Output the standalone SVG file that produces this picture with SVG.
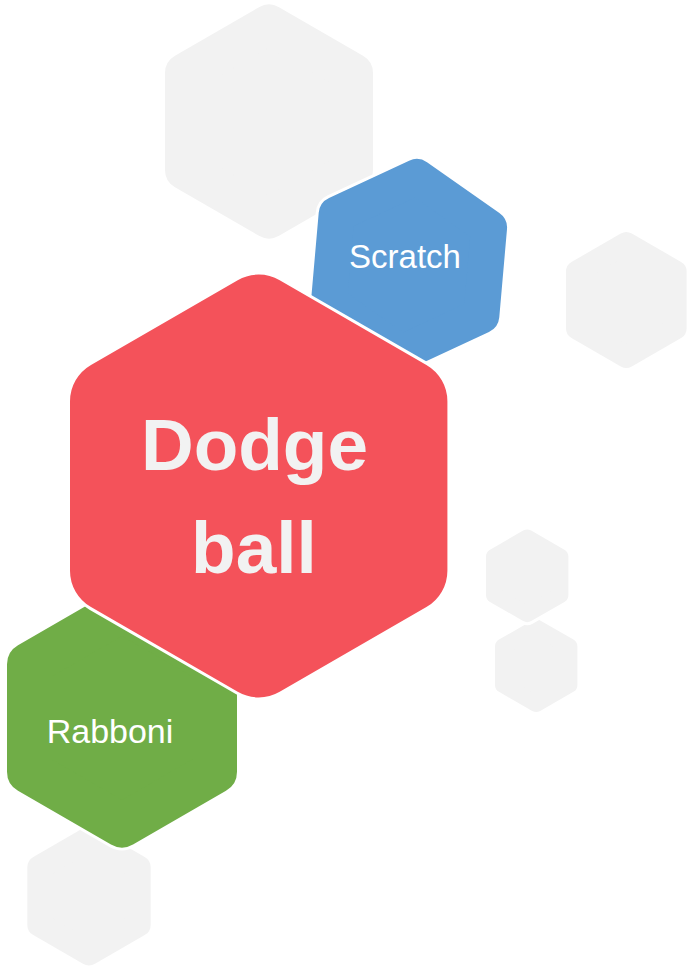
<svg xmlns="http://www.w3.org/2000/svg" width="688" height="969" viewBox="0 0 688 969">
<style>
.halo{fill:#FFFFFF;stroke:#FFFFFF;stroke-linejoin:round}
.gray{fill:#F2F2F2;stroke:#F2F2F2;stroke-linejoin:round}
.blue{fill:#5B9BD5;stroke:#5B9BD5;stroke-linejoin:round}
.green{fill:#70AD47;stroke:#70AD47;stroke-linejoin:round}
.red{fill:#F4525A}
.lbl{font-family:"Liberation Sans",Arial,sans-serif;fill:#FFFFFF;text-anchor:middle}
.big{font-family:"Liberation Sans",Arial,sans-serif;font-weight:bold;fill:#F2F2F2;text-anchor:middle}
</style>
<rect width="688" height="969" fill="#FFFFFF"/>
<g id="gray-top">
<polygon class="halo" stroke-width="46" points="269,24.5 353,73 353,170 269,218.5 185,170 185,73"/>
<polygon class="gray" stroke-width="40" points="269,24.5 353,73 353,170 269,218.5 185,170 185,73"/>
</g>
<g id="gray-right">
<polygon class="halo" stroke-width="28" points="626.3,243.1 675.6,271.5 675.6,328.5 626.3,356.9 577,328.5 577,271.5"/>
<polygon class="gray" stroke-width="22" points="626.3,243.1 675.6,271.5 675.6,328.5 626.3,356.9 577,328.5 577,271.5"/>
</g>
<g id="gray-small-lower">
<polygon class="halo" stroke-width="22" points="536.2,627.4 569.4,646.5 569.4,684.9 536.2,704 503,684.9 503,646.5"/>
<polygon class="gray" stroke-width="16" points="536.2,627.4 569.4,646.5 569.4,684.9 536.2,704 503,684.9 503,646.5"/>
</g>
<g id="gray-small-upper">
<polygon class="halo" stroke-width="22" points="527.2,537.5 560.4,556.6 560.4,595 527.2,614.1 494,595 494,556.6"/>
<polygon class="gray" stroke-width="16" points="527.2,537.5 560.4,556.6 560.4,595 527.2,614.1 494,595 494,556.6"/>
</g>
<g id="gray-bottom">
<polygon class="halo" stroke-width="30" points="89,838.6 138.7,867.3 138.7,924.7 89,953.4 39.3,924.7 39.3,867.3"/>
<polygon class="gray" stroke-width="24" points="89,838.6 138.7,867.3 138.7,924.7 89,953.4 39.3,924.7 39.3,867.3"/>
</g>
<g id="scratch">
<g transform="rotate(5 409 265)">
<polygon class="halo" stroke-width="42" points="409,176.7 485.5,220.8 485.5,309.2 409,353.3 332.5,309.2 332.5,220.8"/>
<polygon class="blue" stroke-width="36" points="409,176.7 485.5,220.8 485.5,309.2 409,353.3 332.5,309.2 332.5,220.8"/>
</g>
<text class="lbl" x="405" y="268" font-size="33">Scratch</text>
</g>
<g id="rabboni">
<polygon class="halo" stroke-width="50" points="122,610.6 215,664.3 215,771.7 122,825.4 29,771.7 29,664.3"/>
<polygon class="green" stroke-width="44" points="122,610.6 215,664.3 215,771.7 122,825.4 29,771.7 29,664.3"/>
<text class="lbl" x="110" y="743" font-size="34">Rabboni</text>
</g>
<g id="dodgeball">
<polygon class="halo" stroke-width="90" points="258.7,316.6 405.4,401.3 405.4,570.7 258.7,655.4 112,570.7 112,401.3"/>
<path class="red" d="M237.7,280.23 A42,42 0 0 1 279.7,280.23 L426.4,364.93 A42,42 0 0 1 447.4,401.3 L447.4,570.7 A42,42 0 0 1 426.4,607.07 L279.7,691.77 A42,42 0 0 1 237.7,691.77 L91,607.07 A42,42 0 0 1 70,570.7 L70,401.3 A42,42 0 0 1 91,364.93 Z"/>
<text class="big" x="254.5" y="470" font-size="73">Dodge</text>
<text class="big" x="254" y="573" font-size="73">ball</text>
</g>
<g id="connectors"/>
</svg>
